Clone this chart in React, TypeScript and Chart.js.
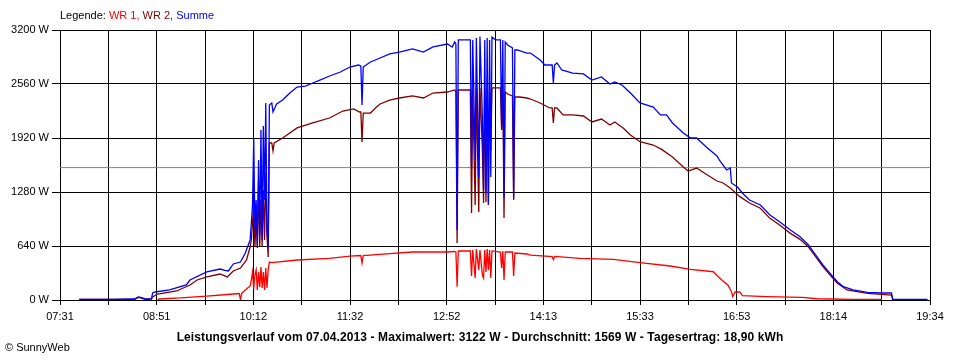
import { useEffect, useRef } from "react";
import { Chart, registerables } from "chart.js";

Chart.register(...registerables);

// ---- Data (time "HH:MM", power in W) ----
const xTickLabels = ["07:31", "08:51", "10:12", "11:32", "12:52", "14:13", "15:33", "16:53", "18:14", "19:34"];
const yMax = 3200;
const yStep = 640;
const averageW = 1569;
const maxW = 3122;
const dateText = "07.04.2013";
const dailyYieldText = "18,90 kWh";

const summe: [string, number][] = [
  ["07:47", 6], ["08:13", 6], ["08:33", 12], ["08:36", 36], ["08:38", 30], ["08:42", 12], ["08:47", 12], ["08:48", 83],
  ["08:50", 95], ["09:02", 119], ["09:16", 178], ["09:19", 237], ["09:33", 332], ["09:44", 367], ["09:48", 350], ["09:51", 344],
  ["09:55", 427], ["10:01", 450], ["10:05", 557], ["10:09", 711], ["10:10", 913],
  ["10:11", 1126], ["10:12", 1920], ["10:13", 830], ["10:14", 1185], ["10:15", 640], ["10:16", 1659], ["10:17", 770],
  ["10:18", 2015], ["10:19", 711], ["10:20", 2062], ["10:21", 1185], ["10:22", 2335], ["10:23", 830], ["10:24", 630],
  ["10:25", 2311], ["10:27", 2335], ["10:28", 2228], ["10:31", 2323], ["10:36", 2370], ["10:42", 2453], ["10:48", 2524],
  ["10:55", 2536], ["11:01", 2572], ["11:07", 2607], ["11:15", 2655], ["11:24", 2702], ["11:32", 2761], ["11:39", 2785],
  ["11:41", 2773], ["11:42", 2311], ["11:43", 2761], ["11:49", 2821], ["11:57", 2868], ["12:05", 2916], ["12:13", 2939],
  ["12:24", 2975], ["12:33", 2939], ["12:41", 2999], ["12:53", 3034], ["12:57", 2999], ["12:59", 3058], ["13:00", 3034],
  ["13:01", 830], ["13:02", 3082], ["13:12", 3082], ["13:13", 1576], ["13:14", 3082], ["13:16", 1659], ["13:17", 3105],
  ["13:19", 1446], ["13:20", 3122], ["13:22", 2169], ["13:23", 1304], ["13:24", 3082], ["13:25", 1268], ["13:26", 3105],
  ["13:27", 1150], ["13:28", 3082], ["13:29", 1458], ["13:30", 3117], ["13:33", 3082], ["13:37", 3082], ["13:38", 2039],
  ["13:39", 3082], ["13:40", 1209], ["13:41", 3058], ["13:43", 3022], ["13:47", 2987], ["13:48", 1209], ["13:49", 2963],
  ["13:51", 2963], ["13:59", 2927], ["14:02", 2927], ["14:10", 2844], ["14:14", 2785], ["14:20", 2785], ["14:21", 2572],
  ["14:22", 2785], ["14:24", 2809], ["14:28", 2726], ["14:37", 2690], ["14:46", 2679], ["14:53", 2607], ["15:01", 2643],
  ["15:08", 2560], ["15:12", 2584], ["15:18", 2548], ["15:25", 2453], ["15:33", 2335], ["15:44", 2287], ["15:50", 2193],
  ["15:55", 2193], ["16:00", 2098], ["16:09", 1979], ["16:15", 1920], ["16:20", 1920], ["16:29", 1801], ["16:37", 1707],
  ["16:39", 1659], ["16:45", 1541], ["16:48", 1564], ["16:49", 1387], ["16:54", 1339], ["16:58", 1268], ["17:04", 1185],
  ["17:13", 1126], ["17:21", 1007], ["17:29", 928], ["17:38", 830], ["17:46", 750], ["17:53", 652], ["17:58", 553],
  ["18:05", 415], ["18:11", 316], ["18:17", 217], ["18:22", 158], ["18:30", 119], ["18:42", 91], ["18:54", 83],
  ["19:02", 83], ["19:03", 8], ["19:32", 8],
];

const wr2: [string, number][] = [
  ["07:47", 6], ["08:33", 6], ["08:36", 30], ["08:38", 24], ["08:42", 6], ["08:47", 12], ["08:48", 36], ["08:52", 71],
  ["09:08", 107], ["09:19", 178], ["09:25", 237], ["09:33", 273], ["09:44", 308], ["09:50", 273], ["09:55", 344],
  ["10:01", 379], ["10:06", 474], ["10:09", 628], ["10:10", 711],
  ["10:11", 913], ["10:12", 1150], ["10:13", 628], ["10:14", 1007], ["10:15", 616], ["10:16", 1422], ["10:17", 628],
  ["10:18", 1185], ["10:19", 640], ["10:20", 1304], ["10:21", 711], ["10:22", 1505], ["10:23", 770], ["10:24", 510],
  ["10:25", 1861], ["10:27", 1861], ["10:28", 1766], ["10:29", 1861], ["10:36", 1920], ["10:48", 2039], ["11:01", 2098],
  ["11:15", 2157], ["11:26", 2240], ["11:35", 2264], ["11:40", 2228], ["11:41", 2228], ["11:42", 1873], ["11:43", 2216],
  ["11:49", 2216], ["11:54", 2287], ["11:57", 2323], ["12:05", 2370], ["12:13", 2394], ["12:24", 2418], ["12:33", 2394],
  ["12:41", 2453], ["12:53", 2465], ["12:59", 2489], ["13:00", 2465], ["13:01", 676], ["13:02", 2489], ["13:12", 2489],
  ["13:13", 1031], ["13:14", 2489], ["13:16", 1126], ["13:17", 2513], ["13:19", 1043], ["13:20", 2513], ["13:22", 1778],
  ["13:23", 1150], ["13:24", 2489], ["13:25", 1161], ["13:26", 2513], ["13:27", 1126], ["13:28", 2489], ["13:29", 1778],
  ["13:30", 2513], ["13:37", 2513], ["13:38", 2015], ["13:39", 2489], ["13:40", 972], ["13:41", 2465], ["13:43", 2441],
  ["13:47", 2418], ["13:48", 1185], ["13:49", 2406], ["13:53", 2406], ["13:59", 2394], ["14:02", 2382], ["14:10", 2335],
  ["14:18", 2276], ["14:20", 2276], ["14:21", 2098], ["14:22", 2276], ["14:24", 2276], ["14:29", 2193], ["14:37", 2193],
  ["14:46", 2181], ["14:53", 2110], ["15:01", 2145], ["15:08", 2074], ["15:12", 2110], ["15:19", 2039], ["15:25", 1956],
  ["15:33", 1876], ["15:44", 1837], ["15:51", 1785], ["16:00", 1695], ["16:09", 1576], ["16:13", 1529], ["16:20", 1564],
  ["16:29", 1482], ["16:37", 1410], ["16:42", 1387], ["16:48", 1327], ["16:56", 1225], ["17:04", 1150], ["17:13", 1087],
  ["17:21", 968], ["17:29", 889], ["17:38", 790], ["17:46", 719], ["17:53", 628], ["17:58", 533], ["18:05", 395],
  ["18:11", 296], ["18:17", 198], ["18:25", 119], ["18:42", 79], ["19:02", 59], ["19:03", 6],
];

const wr1: [string, number][] = [
  ["08:52", 6], ["08:54", 12], ["09:11", 24], ["09:33", 47], ["09:50", 65], ["10:00", 77], ["10:01", 0], ["10:02", 79],
  ["10:05", 119], ["10:09", 166], ["10:10", 237],
  ["10:11", 332], ["10:12", 130], ["10:13", 296], ["10:14", 356], ["10:15", 119], ["10:16", 332], ["10:17", 154],
  ["10:18", 391], ["10:19", 142], ["10:20", 332], ["10:21", 119], ["10:22", 379], ["10:23", 142], ["10:24", 356],
  ["10:25", 450], ["10:27", 442], ["10:48", 474], ["11:15", 494], ["11:32", 521], ["11:41", 527], ["11:42", 439],
  ["11:43", 527], ["12:05", 549], ["12:24", 569], ["12:53", 569], ["12:59", 575], ["13:00", 569], ["13:01", 158],
  ["13:02", 581], ["13:12", 581], ["13:13", 284], ["13:14", 593], ["13:16", 261], ["13:17", 604], ["13:19", 356],
  ["13:20", 593], ["13:22", 296], ["13:23", 261], ["13:24", 593], ["13:25", 332], ["13:26", 604], ["13:27", 356],
  ["13:28", 593], ["13:29", 261], ["13:30", 581], ["13:37", 569], ["13:38", 379], ["13:39", 581], ["13:40", 237],
  ["13:41", 569], ["13:47", 569], ["13:48", 284], ["13:49", 557], ["13:59", 545], ["14:02", 533], ["14:20", 513],
  ["14:21", 480], ["14:22", 516], ["14:43", 494], ["15:11", 482], ["15:33", 442], ["15:58", 403], ["16:15", 364],
  ["16:34", 335], ["16:38", 276], ["16:41", 237], ["16:46", 178], ["16:49", 99], ["16:50", 40], ["16:52", 95],
  ["16:56", 95], ["16:58", 51], ["17:18", 40], ["17:48", 32], ["18:00", 15], ["18:30", 6], ["18:54", 6],
];

const toMin = (t: string) => {
  const [h, m] = t.split(":").map(Number);
  return h * 60 + m;
};
const toPoints = (s: [string, number][]) => s.map(([t, v]) => ({ x: toMin(t), y: v }));

const FONT = "'Liberation Sans', Arial, sans-serif";

export default function App() {
  const ref = useRef<HTMLCanvasElement>(null);

  useEffect(() => {
    const xMin = toMin(xTickLabels[0]);
    const xMax = toMin(xTickLabels[xTickLabels.length - 1]);
    const nGrid = (xTickLabels.length - 1) * 2;

    const chart = new Chart(ref.current!, {
      type: "line",
      data: {
        datasets: [
          { label: "Summe", data: toPoints(summe), borderColor: "#0000ff" },
          { label: "WR 2", data: toPoints(wr2), borderColor: "#800000" },
          { label: "WR 1", data: toPoints(wr1), borderColor: "#ff0000" },
          {
            label: "Durchschnitt",
            data: [{ x: xMin, y: averageW }, { x: xMax, y: averageW }],
            borderColor: "#808080",
            borderWidth: 1,
          },
        ],
      },
      options: {
        responsive: false,
        animation: false,
        layout: { padding: { top: 30, right: 30, left: 0, bottom: 0 } },
        plugins: { legend: { display: false }, tooltip: { enabled: false }, title: { display: false } },
        elements: { point: { radius: 0 }, line: { tension: 0, borderWidth: 1.3 } },
        scales: {
          x: {
            type: "linear",
            min: xMin,
            max: xMax,
            afterBuildTicks: (s: any) => {
              s.ticks = Array.from({ length: nGrid + 1 }, (_, i) => ({ value: xMin + (i * (xMax - xMin)) / nGrid }));
            },
            afterFit: (s: any) => {
              s.height = 60;
            },
            ticks: {
              autoSkip: false,
              maxRotation: 0,
              padding: 5,
              color: "#000",
              font: { family: FONT, size: 11 },
              callback: (_v: any, i: number) => (i % 2 === 0 ? xTickLabels[i / 2] : ""),
            },
            grid: { color: "#000", lineWidth: 1, tickLength: 5, drawTicks: true },
            border: { color: "#000", width: 1 },
          },
          y: {
            min: 0,
            max: yMax,
            afterFit: (s: any) => {
              s.width = 60;
            },
            ticks: {
              stepSize: yStep,
              padding: 3,
              color: "#000",
              font: { family: FONT, size: 11 },
              callback: (v: any) => `${v} W`,
            },
            grid: { color: "#000", lineWidth: 1, tickLength: 8, drawTicks: true },
            border: { color: "#000", width: 1 },
          },
        },
      },
    });
    return () => chart.destroy();
  }, []);

  const textBase: React.CSSProperties = {
    position: "absolute",
    fontFamily: FONT,
    fontSize: 11,
    lineHeight: "13px",
    whiteSpace: "nowrap",
    color: "#000",
  };

  return (
    <div style={{ position: "fixed", left: 0, top: 0, width: 960, height: 360, background: "#fff", overflow: "hidden" }}>
      <canvas ref={ref} width={960} height={360} style={{ position: "absolute", left: 0, top: 0 }} />
      <div style={{ ...textBase, left: 60, top: 9 }}>
        Legende: <span style={{ color: "#ff0000" }}>WR 1, </span>
        <span style={{ color: "#800000" }}>WR 2, </span>
        <span style={{ color: "#0000ff" }}>Summe</span>
      </div>
      <div
        style={{
          ...textBase,
          left: 0,
          width: 960,
          top: 330,
          textAlign: "center",
          fontWeight: "bold",
          fontSize: 12,
          letterSpacing: "0.1px",
          lineHeight: "14px",
        }}
      >
        {`Leistungsverlauf vom ${dateText} - Maximalwert: ${maxW} W - Durchschnitt: ${averageW} W - Tagesertrag: ${dailyYieldText}`}
      </div>
      <div style={{ ...textBase, left: 5, top: 341 }}>© SunnyWeb</div>
    </div>
  );
}
